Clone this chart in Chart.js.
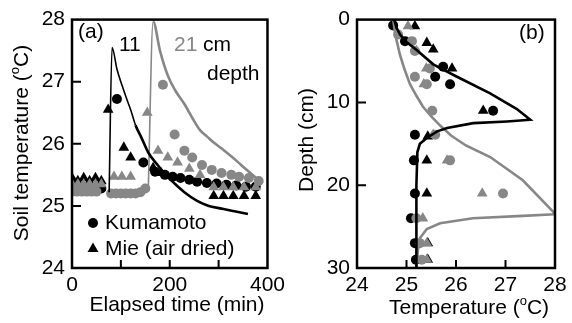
<!DOCTYPE html>
<html><head><meta charset="utf-8">
<script src="https://cdn.jsdelivr.net/npm/chart.js@4.4.1/dist/chart.umd.min.js"></script>
<style>
html,body{margin:0;padding:0;background:#fff;}
#wrap{position:relative;width:572px;height:323px;overflow:hidden;}
#ca{position:absolute;left:0;top:0;}
#cb{position:absolute;left:290px;top:0;}
</style></head><body>
<div id="wrap"><canvas id="ca" width="290" height="323"></canvas><canvas id="cb" width="282" height="323"></canvas></div>
<script>
// ---------- Panel (a): soil temperature vs elapsed time ----------
const line11_t = [76, 82, 92, 102, 112, 120, 130, 142, 156, 176, 192, 210, 230, 256, 280, 310, 335, 360];
const line11_v = [25.22, 27.55, 27.2, 26.95, 26.72, 26.55, 26.3, 26.1, 25.86, 25.65, 25.5, 25.36, 25.22, 25.08, 25.0, 24.95, 24.91, 24.87];
const line21_t = [156, 166, 180, 196, 212, 230, 246, 262, 276, 290, 310, 330, 346, 362, 386];
const line21_v = [25.25, 27.97, 27.5, 27.1, 26.85, 26.64, 26.42, 26.22, 26.12, 26.02, 25.9, 25.77, 25.66, 25.55, 25.39];

const kuma11_t = [0, 10, 20, 30, 40, 50, 60, 92, 146, 170, 190, 206, 222, 240, 256, 276, 296, 316, 336, 356, 376];
const kuma11_v = [25.28, 25.28, 25.28, 25.28, 25.28, 25.28, 25.28, 26.72, 25.7, 25.55, 25.5, 25.47, 25.45, 25.42, 25.39, 25.37, 25.36, 25.34, 25.33, 25.31, 25.31];
const kuma21_t = [0, 10, 20, 30, 40, 50, 80, 90, 100, 110, 120, 130, 140, 150, 186, 210, 230, 246, 266, 286, 306, 326, 342, 362, 382];
const kuma21_v = [25.23, 25.23, 25.23, 25.23, 25.23, 25.23, 25.2, 25.2, 25.2, 25.2, 25.2, 25.2, 25.22, 25.28, 26.95, 26.15, 25.89, 25.78, 25.66, 25.58, 25.53, 25.5, 25.47, 25.45, 25.4];
const mie11_t = [0, 12, 24, 36, 48, 60, 74, 106, 120, 166, 182, 290, 310, 330, 352, 376];
const mie11_v = [25.45, 25.4, 25.45, 25.4, 25.45, 25.4, 26.55, 25.94, 25.78, 25.61, 25.53, 25.16, 25.16, 25.16, 25.16, 25.16];
const mie21_t = [0, 12, 24, 36, 48, 60, 86, 102, 120, 154, 176, 196, 216, 240, 262, 290, 310, 330, 352, 376];
const mie21_v = [25.35, 25.35, 25.35, 25.35, 25.35, 25.35, 25.47, 25.47, 25.47, 26.5, 25.89, 25.78, 25.7, 25.6, 25.5, 25.3, 25.3, 25.3, 25.3, 25.3];

const timeTicks = [0, 100, 200, 300, 400];
const soilTempTicks = [24, 25, 26, 27, 28];

// ---------- Panel (b): temperature profile vs depth ----------
const lineB11_T = [24.75, 24.8, 24.87, 25.0, 25.21, 25.54, 26.02, 26.69, 27.23, 27.5, 27.03, 26.35, 25.82, 25.62, 25.41, 25.27, 25.22, 25.2, 25.2];
const lineB11_d = [0, 1.0, 1.8, 2.7, 3.7, 5.4, 6.9, 8.9, 10.8, 12.1, 12.3, 12.5, 13.1, 13.5, 14.3, 15, 16, 20, 30];
const lineB21_T = [24.73, 24.78, 24.87, 24.96, 25.07, 25.2, 25.33, 25.5, 25.68, 25.9, 26.2, 26.69, 27.35, 27.96, 28.0, 27.35, 26.34, 25.68, 25.41, 25.27, 25.23, 25.2];
const lineB21_d = [0, 2.0, 4.3, 6.0, 7.8, 9.2, 10.5, 11.7, 12.8, 14.0, 15.2, 16.6, 19.4, 23.2, 23.5, 23.7, 24.0, 24.6, 25.3, 26.4, 27.9, 30];

const kumaB11_T = [24.73, 24.97, 25.74, 25.58, 25.88, 26.75, 25.17, 25.15, 25.17, 25.09, 25.17, 25.19];
const kumaB11_d = [0.7, 2.6, 5.7, 6.9, 7.8, 11.0, 13.9, 17, 21, 24, 27, 29];
const mieB11_T = [25.17, 25.41, 25.54, 25.92, 26.55, 25.43, 25.41, 25.41, 25.43, 25.43];
const mieB11_d = [0.8, 2.8, 3.6, 5.9, 11.0, 14.1, 17, 21, 27, 29];
const kumaB21_T = [24.83, 25.11, 25.17, 25.47, 25.17, 25.41, 25.52, 25.58, 25.88, 26.95, 25.2, 25.27, 25.31];
const kumaB21_d = [1.8, 2.6, 3.8, 5.9, 6.9, 7.8, 11.0, 13.9, 17, 21, 24, 27, 29];
const mieB21_T = [25.03, 25.2, 25.4, 25.35, 25.54, 25.82, 26.53, 25.33, 25.41, 25.41];
const mieB21_d = [0.8, 3.8, 5.9, 7.8, 13.9, 17, 21, 24, 27, 29];

const depthTicks = [0, 10, 20, 30];
const profTempTicks = [24, 25, 26, 27, 28];

// ---------- helpers ----------
const BLACK = '#000000';
const GRAY = '#878787';
const FONT = "'Liberation Sans', Arial, sans-serif";
const FS = 21;
Chart.defaults.font.family = FONT;
Chart.defaults.font.size = FS;
Chart.defaults.color = BLACK;

const pts = (xs, ys) => xs.map((x, i) => ({x: x, y: ys[i]}));

function rich(ctx, parts, x, y, angle) {
  ctx.save();
  ctx.translate(x, y);
  ctx.rotate(angle || 0);
  ctx.textBaseline = 'middle';
  ctx.textAlign = 'left';
  let total = 0;
  parts.forEach(p => { ctx.font = (p.sup ? Math.round(FS * 0.62) : FS) + 'px ' + FONT; p.w = ctx.measureText(p.t).width; total += p.w; });
  let cx = -total / 2;
  parts.forEach(p => {
    ctx.font = (p.sup ? Math.round(FS * 0.62) : FS) + 'px ' + FONT;
    ctx.fillStyle = p.c || BLACK;
    ctx.fillText(p.t, cx, p.sup ? -FS * 0.3 : 0);
    cx += p.w;
  });
  ctx.restore();
}
function text(ctx, t, x, y, color) {
  ctx.save();
  ctx.font = FS + 'px ' + FONT;
  ctx.fillStyle = color || BLACK;
  ctx.textBaseline = 'middle';
  ctx.textAlign = 'left';
  ctx.fillText(t, x, y);
  ctx.restore();
}
function frameAndTicks(chart, xTicks, yTicks) {
  const {ctx, chartArea: a, scales} = chart;
  ctx.save();
  ctx.strokeStyle = BLACK;
  ctx.lineWidth = 2.5;
  ctx.strokeRect(a.left, a.top, a.right - a.left, a.bottom - a.top);
  ctx.lineWidth = 2;
  ctx.beginPath();
  xTicks.forEach(v => { const x = scales.x.getPixelForValue(v); ctx.moveTo(x, a.bottom); ctx.lineTo(x, a.bottom - 8); });
  yTicks.forEach(v => { const y = scales.y.getPixelForValue(v); ctx.moveTo(a.left, y); ctx.lineTo(a.left + 9, y); });
  ctx.stroke();
  ctx.restore();
}

const thinRise = {
  borderWidth: c => (Math.abs(c.p1.parsed.x - c.p0.parsed.x) < 12 ? 1.6 : 2.6)
};

function scatterDs(data, color, style, r, order) {
  return {type: 'scatter', data: data, backgroundColor: color, borderColor: color, borderWidth: 0,
          pointStyle: style, pointRadius: r, pointHoverRadius: r, showLine: false, order: order};
}
function lineDs(data, color, order, seg, mono) {
  const d = {type: 'scatter', data: data, showLine: true, borderColor: color, borderWidth: 2.6,
             pointRadius: 0, fill: false, tension: mono ? 0.4 : 0, order: order};
  if (mono) d.cubicInterpolationMode = 'monotone';
  if (seg) d.segment = seg;
  return d;
}

// ---------- Chart (a) ----------
const plugA = {
  id: 'decorA',
  afterDatasetsDraw(chart) {
    const ctx = chart.ctx;
    frameAndTicks(chart, [100, 200, 300], [25, 26, 27]);
    rich(ctx, [{t: 'Soil temperature ('}, {t: 'o', sup: true}, {t: 'C)'}], 22, 143, -Math.PI / 2);
    rich(ctx, [{t: 'Elapsed time (min)'}], 177, 305, 0);
    text(ctx, '(a)', 78, 32);
    text(ctx, '11', 119, 45);
    text(ctx, '21', 174, 45, GRAY);
    text(ctx, 'cm', 203, 45);
    text(ctx, 'depth', 207, 74);
    // legend
    ctx.save();
    ctx.fillStyle = BLACK;
    ctx.beginPath(); ctx.arc(93, 223, 5, 0, Math.PI * 2); ctx.fill();
    ctx.beginPath(); ctx.moveTo(93, 242.5); ctx.lineTo(98.5, 252); ctx.lineTo(87.5, 252); ctx.closePath(); ctx.fill();
    ctx.restore();
    text(ctx, 'Kumamoto', 105, 223);
    text(ctx, 'Mie (air dried)', 105, 249);
  }
};

new Chart(document.getElementById('ca'), {
  type: 'scatter',
  data: {
    datasets: [
      lineDs(pts(line11_t, line11_v), BLACK, 0, thinRise, true),
      lineDs(pts(line21_t, line21_v), GRAY, 0, thinRise, true),
      scatterDs(pts(kuma11_t, kuma11_v), BLACK, 'circle', 5, 4),
      scatterDs(pts(mie11_t, mie11_v), BLACK, 'triangle', 6.2, 3),
      scatterDs(pts(mie21_t, mie21_v), GRAY, 'triangle', 6.2, 2),
      scatterDs(pts(kuma21_t, kuma21_v), GRAY, 'circle', 5, 1)
    ]
  },
  options: {
    responsive: false, animation: false, devicePixelRatio: 1,
    layout: {padding: {left: 0, right: 19, top: 11, bottom: 0}},
    plugins: {legend: {display: false}, tooltip: {enabled: false}},
    scales: {
      x: {type: 'linear', min: 0, max: 400, afterBuildTicks: s => { s.ticks = timeTicks.map(v => ({value: v})); },
          grid: {display: false, drawTicks: false}, border: {display: false},
          ticks: {padding: 5, maxRotation: 0, callback: v => (v % 200 === 0 ? String(v) : '')},
          afterFit: s => { s.height = 55; }},
      y: {type: 'linear', min: 24, max: 28, afterBuildTicks: s => { s.ticks = soilTempTicks.map(v => ({value: v})); },
          grid: {display: false, drawTicks: false}, border: {display: false},
          ticks: {padding: 7},
          afterFit: s => { s.width = 72; }}
    }
  },
  plugins: [plugA]
});

// ---------- Chart (b) ----------
const plugB = {
  id: 'decorB',
  afterDatasetsDraw(chart) {
    const ctx = chart.ctx;
    frameAndTicks(chart, [25, 26, 27], [10, 20]);
    rich(ctx, [{t: 'Depth (cm)'}], 17, 140, -Math.PI / 2);
    rich(ctx, [{t: 'Temperature ('}, {t: 'o', sup: true}, {t: 'C)'}], 179, 308, 0);
    text(ctx, '(b)', 229, 33);
  }
};

new Chart(document.getElementById('cb'), {
  type: 'scatter',
  data: {
    datasets: [
      lineDs(pts(lineB11_T, lineB11_d), BLACK, 0),
      lineDs(pts(lineB21_T, lineB21_d), GRAY, 0),
      scatterDs(pts(kumaB11_T, kumaB11_d), BLACK, 'circle', 5, 4),
      scatterDs(pts(mieB11_T, mieB11_d), BLACK, 'triangle', 6.2, 3),
      scatterDs(pts(mieB21_T, mieB21_d), GRAY, 'triangle', 6.2, 2),
      scatterDs(pts(kumaB21_T, kumaB21_d), GRAY, 'circle', 5, 1)
    ]
  },
  options: {
    responsive: false, animation: false, devicePixelRatio: 1,
    layout: {padding: {left: 0, right: 17, top: 11, bottom: 0}},
    plugins: {legend: {display: false}, tooltip: {enabled: false}},
    scales: {
      x: {type: 'linear', min: 24, max: 28, afterBuildTicks: s => { s.ticks = profTempTicks.map(v => ({value: v})); },
          grid: {display: false, drawTicks: false}, border: {display: false},
          ticks: {padding: 5, maxRotation: 0},
          afterFit: s => { s.height = 55; }},
      y: {type: 'linear', reverse: true, min: 0, max: 30, afterBuildTicks: s => { s.ticks = depthTicks.map(v => ({value: v})); },
          grid: {display: false, drawTicks: false}, border: {display: false},
          ticks: {padding: 7},
          afterFit: s => { s.width = 67; }}
    }
  },
  plugins: [plugB]
});
</script>
</body></html>
